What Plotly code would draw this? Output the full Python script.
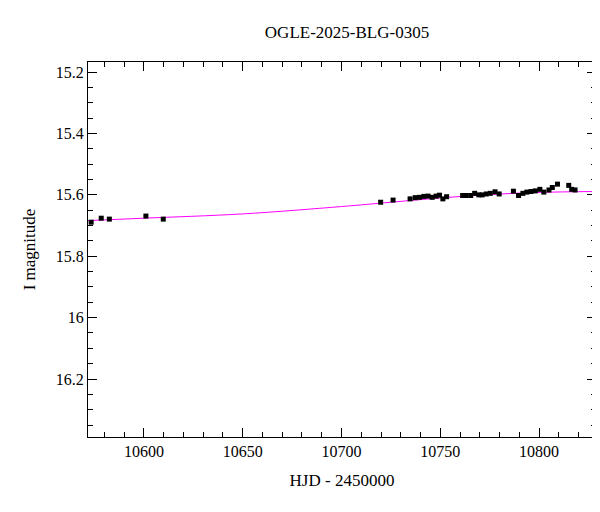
import plotly.graph_objects as go

# observed photometry
hjd = [10573.3, 10578.4, 10582.5, 10601.0, 10609.8,
       10719.8, 10726.1, 10734.7, 10737.3, 10739.5, 10741.7, 10743.8, 10745.9,
       10747.9, 10749.6, 10751.3, 10753.2, 10761.3, 10763.0, 10765.4, 10767.4,
       10769.5, 10771.2, 10773.3, 10775.3, 10777.7, 10779.8, 10787.0, 10789.6,
       10791.8, 10793.8, 10795.9, 10798.1, 10800.4, 10802.4, 10805.0, 10806.7,
       10809.3, 10815.0, 10816.5, 10818.2]
mag = [15.689, 15.676, 15.679, 15.669, 15.679,
       15.624, 15.617, 15.613, 15.609, 15.608, 15.605, 15.604, 15.608,
       15.604, 15.601, 15.613, 15.606, 15.602, 15.602, 15.602, 15.595,
       15.600, 15.600, 15.597, 15.595, 15.590, 15.597, 15.588, 15.602,
       15.595, 15.591, 15.589, 15.587, 15.582, 15.591, 15.584, 15.576,
       15.565, 15.569, 15.582, 15.584]
mag_err = [0.004] * len(hjd)

# model curve
model_t = [10571, 10600, 10650, 10700, 10725, 10750, 10775, 10800, 10829]
model_m = [15.684, 15.676, 15.662, 15.638, 15.624, 15.610, 15.599, 15.592, 15.589]

font = "Liberation Serif"

fig = go.Figure()
fig.add_trace(go.Scatter(x=model_t, y=model_m, mode="lines",
                         line=dict(color="#ff00ff", width=1, shape="spline"),
                         hoverinfo="skip"))
fig.add_trace(go.Scatter(x=hjd, y=mag, mode="markers",
                         marker=dict(symbol="square", size=5, color="black"),
                         error_y=dict(type="data", array=mag_err, color="black",
                                      thickness=1, width=0)))

axis_common = dict(showline=True, linecolor="black", linewidth=1, mirror="allticks",
                   ticks="inside", ticklen=9, tickcolor="black", showgrid=False,
                   zeroline=False, tickfont=dict(size=16, family=font))

fig.update_layout(
    width=600, height=512,
    paper_bgcolor="white", plot_bgcolor="white",
    showlegend=False,
    margin=dict(l=80, r=12, t=54, b=83),
    title=dict(text="OGLE-2025-BLG-0305", x=0.565, y=0.965, xanchor="center",
               font=dict(size=17, family=font, color="black")),
    font=dict(family=font, color="black"),
    xaxis=dict(range=[10571.7, 10828.8], dtick=50, tick0=10600, tickformat="d",
               minor=dict(dtick=10, ticks="inside", ticklen=5, tickcolor="black"),
               title=dict(text="HJD - 2450000", standoff=14,
                          font=dict(size=17, family=font)),
               **axis_common),
    yaxis=dict(range=[16.389, 15.167], dtick=0.2, tick0=15.2,
               tickformat="~g",
               minor=dict(dtick=0.05, ticks="inside", ticklen=5, tickcolor="black"),
               title=dict(text="I magnitude", font=dict(size=17, family=font)),
               **axis_common),
)

fig.write_html("out.html")
